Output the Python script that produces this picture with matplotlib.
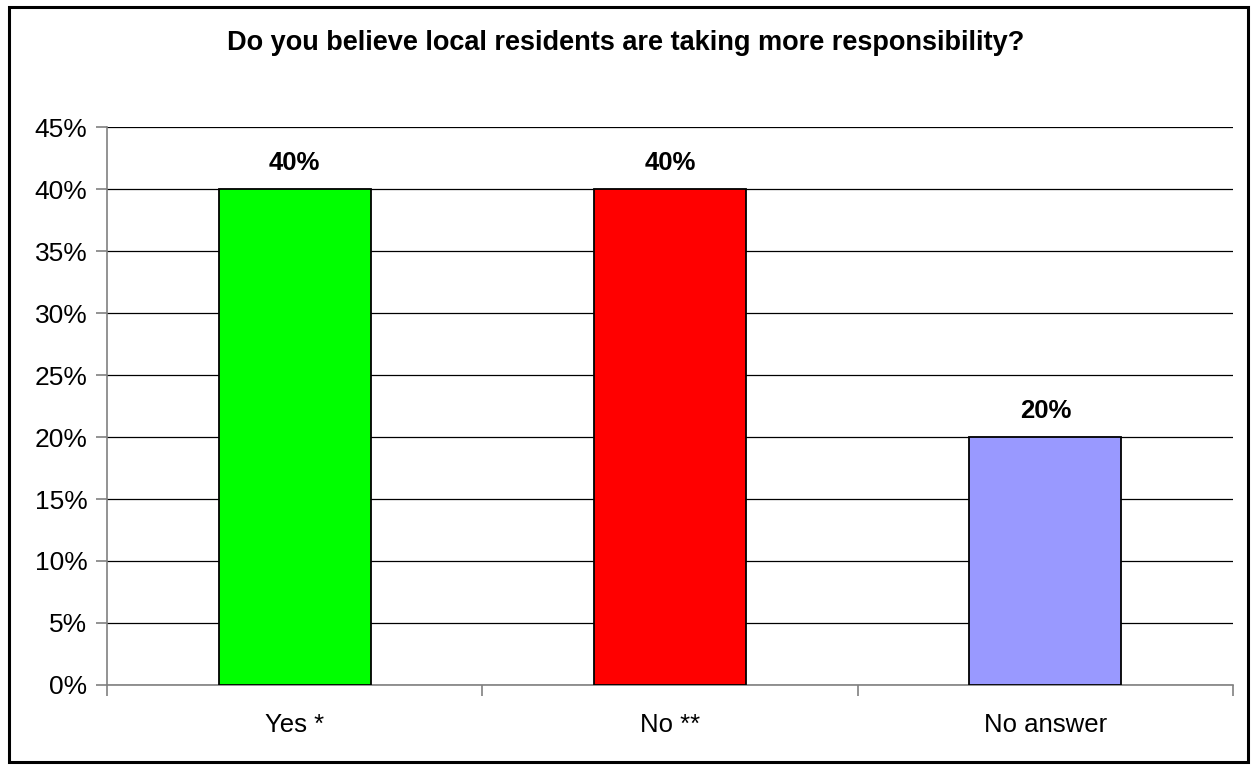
import matplotlib
matplotlib.use("Agg")
import matplotlib.pyplot as plt
from matplotlib.patches import Rectangle
from matplotlib.ticker import MultipleLocator, FuncFormatter

categories = ["Yes *", "No **", "No answer"]
values = [40, 40, 20]
colors = ["#00FF00", "#FF0000", "#9999FF"]
title = "Do you believe local residents are taking more responsibility?"

plt.rcParams['font.family'] = ['Liberation Sans', 'DejaVu Sans']

W, H = 1252, 765
fig = plt.figure(figsize=(W / 100, H / 100), dpi=100)
fig.patch.set_facecolor("white")
# outer border
fig.patches.append(Rectangle((9 / W, 1 - 762 / H), (1248 - 9) / W, (762 - 7) / H,
                             transform=fig.transFigure, fill=False, edgecolor="black",
                             linewidth=2.2))

ax = fig.add_axes([107 / W, 1 - 685 / H, (1233 - 107) / W, (685 - 127) / H])
x = list(range(len(categories)))
bars = ax.bar(x, values, width=0.405, color=colors, edgecolor="black", linewidth=1.3, zorder=3)
ax.set_xlim(-0.5, len(categories) - 0.5)
ax.set_ylim(0, 45)
ax.yaxis.set_major_locator(MultipleLocator(5))
ax.yaxis.set_major_formatter(FuncFormatter(lambda v, p: f"{int(round(v))}%"))
ax.grid(axis="y", color="black", linewidth=0.9, zorder=0)
ax.set_axisbelow(True)
for s in ["top", "right"]:
    ax.spines[s].set_visible(False)
for s in ["left", "bottom"]:
    ax.spines[s].set_color("#808080")
    ax.spines[s].set_linewidth(1.2)
ax.set_xticks(x)
ax.set_xticklabels(categories, fontsize=18.5)
ax.tick_params(axis="x", length=0, pad=20)
ax.set_xticks([-0.5, 0.5, 1.5, 2.5], minor=True)
ax.tick_params(axis="x", which="minor", length=8, color="#808080", width=1.2)
ax.tick_params(axis="y", length=8, color="#808080", width=1.2, labelsize=19, pad=6)

for xi, v in zip(x, values):
    ax.annotate(f"{v}%", (xi, v), xytext=(0, 14), textcoords="offset points",
                ha="center", va="baseline", fontsize=18.5, fontweight="bold")

fig.text(0.5, 1 - 43 / H, title, ha="center", va="center", fontsize=19.5, fontweight="bold")

fig.savefig("out.png", dpi=100)
